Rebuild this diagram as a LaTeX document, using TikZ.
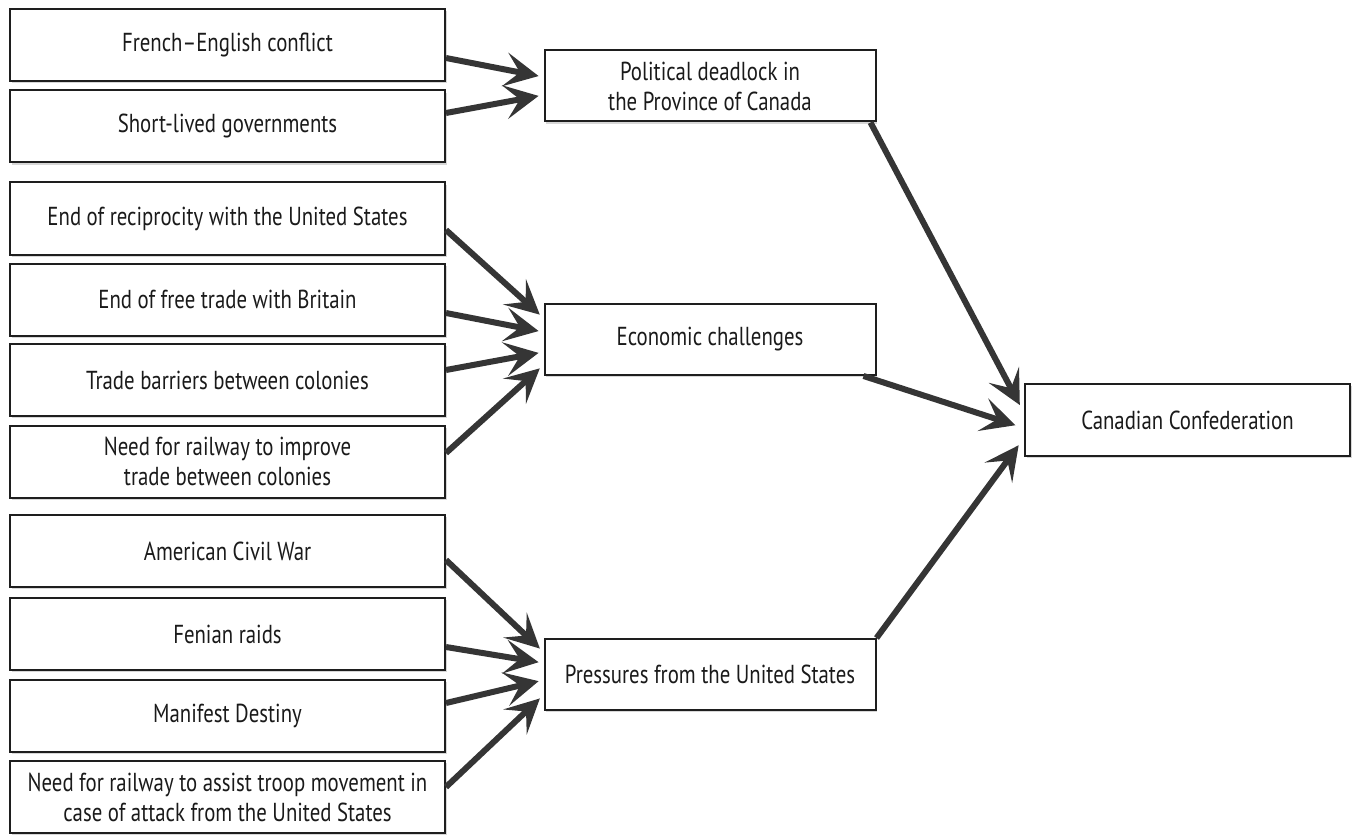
\documentclass[tikz,border=0pt]{standalone}
\usepackage{fontspec}
\setmainfont{PT Sans}[FakeStretch=0.8]
\usetikzlibrary{arrows.meta,shadows}
\definecolor{arrowgray}{HTML}{353535}
\definecolor{boxline}{HTML}{1E1E1E}
\definecolor{textcol}{HTML}{1A1A1A}
\tikzset{
  box/.style={draw=boxline, line width=1pt, fill=white, inner sep=0pt, align=center,
    text=textcol, font=\fontsize{13}{15}\selectfont,
    drop shadow={shadow xshift=0.8pt, shadow yshift=-1.2pt, fill=black!45, opacity=0.35}},
  leftbox/.style={box, minimum width=217.5pt, minimum height=36pt},
  midbox/.style={box, minimum width=165.5pt, minimum height=35.5pt},
  finalbox/.style={box, minimum width=162.5pt, minimum height=36pt},
  link/.style={draw=arrowgray, line width=3pt, shorten >=2.5pt,
    -{Stealth[length=17pt, width=17pt, inset=7.5pt]}},
}
\begin{document}
\begin{tikzpicture}[x=0.5pt, y=-0.5pt]
\useasboundingbox (0,0) rectangle (1352,834);
% left column
\node[leftbox] (b1)  at (227.5,45)    {French--English conflict};
\node[leftbox] (b2)  at (227.5,126.5) {Short-lived governments};
\node[leftbox] (b3)  at (227.5,218.5) {End of reciprocity with the United States};
\node[leftbox] (b4)  at (227.5,299.5) {End of free trade with Britain};
\node[leftbox] (b5)  at (227.5,380)   {Trade barriers between colonies};
\node[leftbox] (b6)  at (227.5,461.5) {Need for railway to improve\\trade between colonies};
\node[leftbox] (b7)  at (227.5,551)   {American Civil War};
\node[leftbox] (b8)  at (227.5,634)   {Fenian raids};
\node[leftbox] (b9)  at (227.5,716)   {Manifest Destiny};
\node[leftbox] (b10) at (227.5,797)   {Need for railway to assist troop movement in\\case of attack from the United States};
% middle column
\node[midbox] (pol)  at (710,86)    {Political deadlock in\\the Province of Canada};
\node[midbox] (econ) at (710,339.5) {Economic challenges};
\node[midbox] (pres) at (710,674.5) {Pressures from the United States};
% final
\node[finalbox] (can) at (1187.5,420) {Canadian Confederation};
% arrows into political
\draw[link] ([yshift=-6.5pt]b1.east) -- ([yshift=4.5pt]pol.west);
\draw[link] ([yshift=6.75pt]b2.east) -- ([yshift=-4.5pt]pol.west);
% arrows into economic
\draw[link] ([yshift=-5.75pt]b3.east) -- ([yshift=10.75pt]econ.west);
\draw[link] ([yshift=-6.75pt]b4.east) -- ([yshift=3.75pt]econ.west);
\draw[link] ([yshift=5pt]b5.east) -- ([yshift=-6.25pt]econ.west);
\draw[link] ([yshift=4.25pt]b6.east) -- ([yshift=-12.75pt]econ.west);
% arrows into pressures
\draw[link] ([yshift=-4.5pt]b7.east) -- ([yshift=11.25pt]pres.west);
\draw[link] ([yshift=-6.5pt]b8.east) -- ([yshift=5.75pt]pres.west);
\draw[link] ([yshift=6.5pt]b9.east) -- ([yshift=-2.75pt]pres.west);
\draw[link] ([yshift=5pt]b10.east) -- ([yshift=-10.25pt]pres.west);
% arrows into confederation
\draw[link, shorten >=4.5pt] ([xshift=-3pt]pol.south east) -- ([yshift=3.5pt]can.west);
\draw[link, shorten >=4.5pt] ([xshift=-6.5pt]econ.south east) -- ([yshift=-4pt]can.west);
\draw[link, shorten >=4.5pt] (pres.north east) -- ([yshift=-9pt]can.west);
\end{tikzpicture}
\end{document}
